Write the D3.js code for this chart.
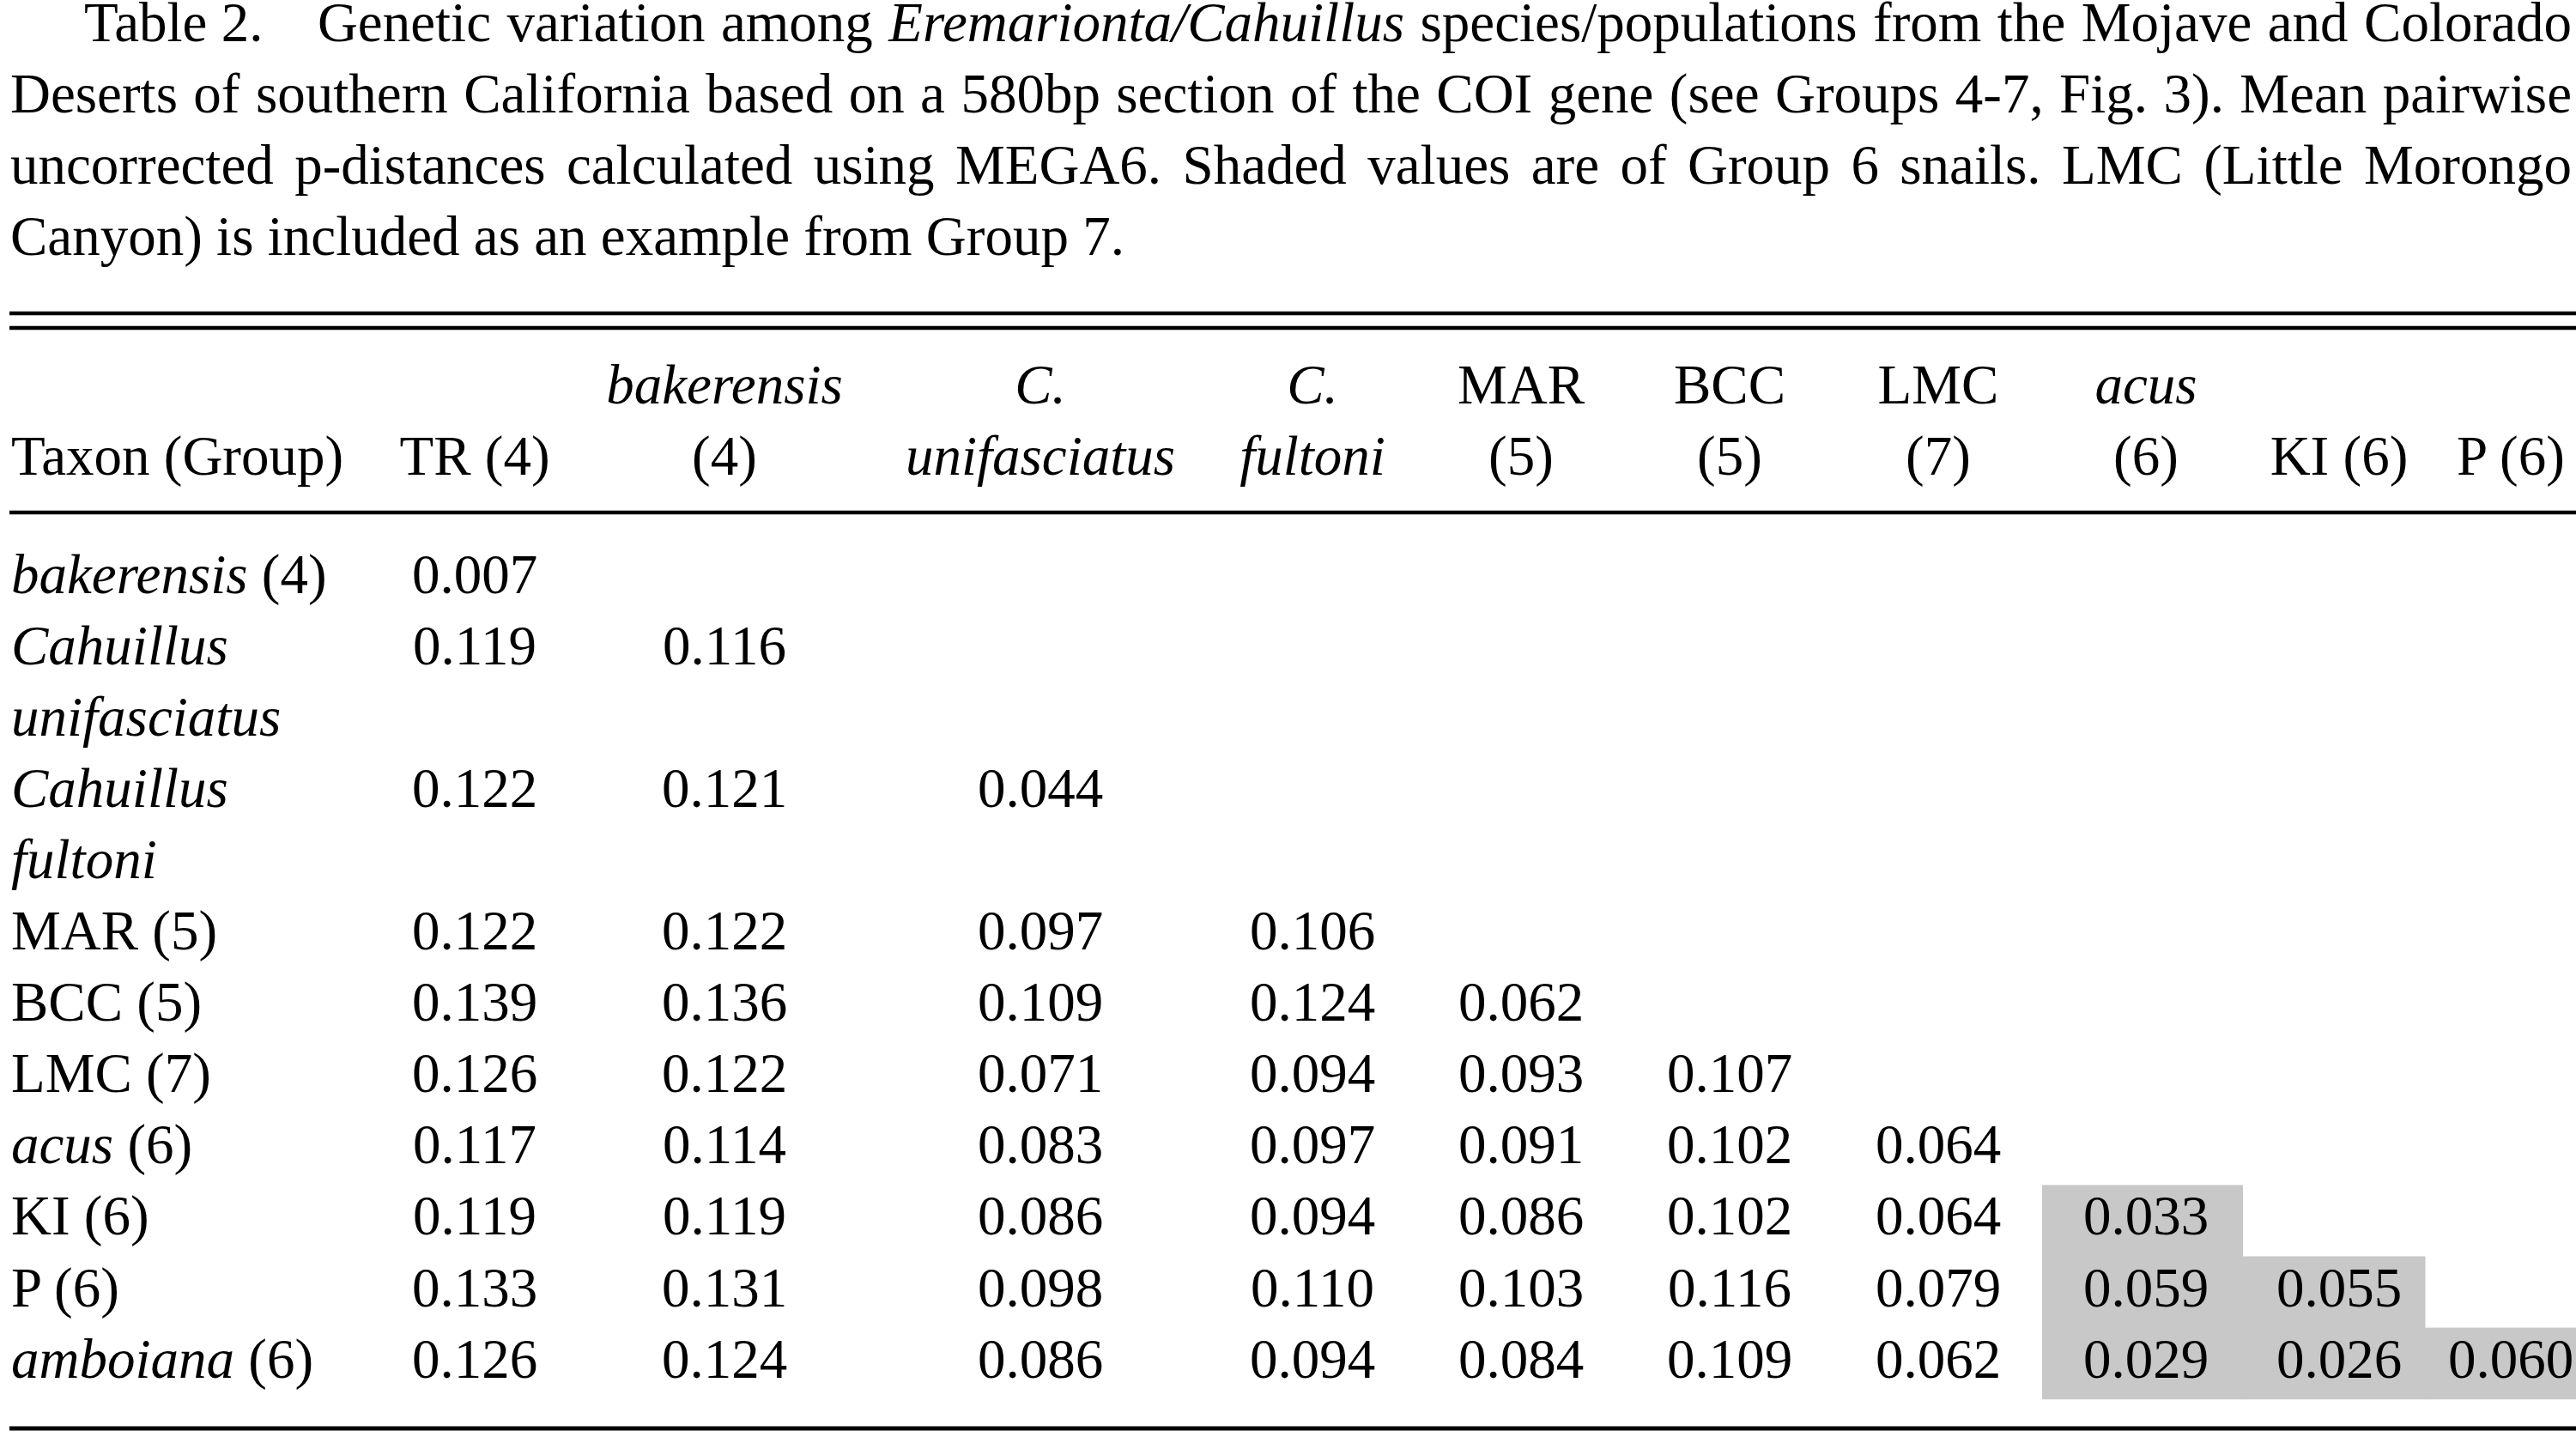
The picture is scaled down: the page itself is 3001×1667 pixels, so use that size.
<!DOCTYPE html>
<html>
<head>
<meta charset="utf-8">
<script src="https://cdn.jsdelivr.net/npm/d3@7"></script>
<style>
  body { margin: 0; background: #fff; }
  svg { display: block; font-family: "Liberation Serif", "Times New Roman", serif; }
</style>
</head>
<body>
<svg id="table" width="3001" height="1667"></svg>
<script>
// caption, words wrapped in _..._ are italic
const captionLines = [
  "Table\u00a02. Genetic variation among _Eremarionta/Cahuillus_ species/populations from the Mojave and Colorado",
  "Deserts of southern California based on a 580bp section of the COI gene (see Groups 4-7, Fig. 3). Mean pairwise",
  "uncorrected p-distances calculated using MEGA6. Shaded values are of Group 6 snails. LMC (Little Morongo",
  "Canyon) is included as an example from Group 7."
];

const columnHead1 = ["", "_bakerensis_", "_C._", "_C._", "MAR", "BCC", "LMC", "_acus_", "", ""];
const columnHead2 = ["TR (4)", "(4)", "_unifasciatus_", "_fultoni_", "(5)", "(5)", "(7)", "(6)", "KI (6)", "P (6)"];
const columnGroups = [4, 4, 0, 0, 5, 5, 7, 6, 6, 6];

const rowLabels = [
  ["_bakerensis_ (4)"],
  ["_Cahuillus_", "_unifasciatus_"],
  ["_Cahuillus_", "_fultoni_"],
  ["MAR (5)"],
  ["BCC (5)"],
  ["LMC (7)"],
  ["_acus_ (6)"],
  ["KI (6)"],
  ["P (6)"],
  ["_amboiana_ (6)"]
];
const rowGroups = [4, 0, 0, 5, 5, 7, 6, 6, 6, 6];

const distances = [
  ["0.007"],
  ["0.119", "0.116"],
  ["0.122", "0.121", "0.044"],
  ["0.122", "0.122", "0.097", "0.106"],
  ["0.139", "0.136", "0.109", "0.124", "0.062"],
  ["0.126", "0.122", "0.071", "0.094", "0.093", "0.107"],
  ["0.117", "0.114", "0.083", "0.097", "0.091", "0.102", "0.064"],
  ["0.119", "0.119", "0.086", "0.094", "0.086", "0.102", "0.064", "0.033"],
  ["0.133", "0.131", "0.098", "0.110", "0.103", "0.116", "0.079", "0.059", "0.055"],
  ["0.126", "0.124", "0.086", "0.094", "0.084", "0.109", "0.062", "0.029", "0.026", "0.060"]
];

const svg = d3.select("#table");
const width = +svg.attr("width");
const fontSize = 65;
const shade = "#c8c8c8";

// write "a _b_ c" into a text element as roman / italic tspans
function richText(sel, str) {
  str.split("_").forEach((part, i) => {
    if (!part) return;
    sel.append("tspan")
      .attr("font-style", i % 2 ? "italic" : "normal")
      .text(part);
  });
  return sel;
}

// caption, justified like the printed page
const capLeft = 12, capRight = 2996;
captionLines.forEach((line, li) => {
  const y = 48 + li * 83;
  const left = li === 0 ? 98 : capLeft;
  const words = line.split(" ");
  const nodes = words.map(w =>
    richText(svg.append("text").attr("y", y).attr("font-size", fontSize), w)
  );
  const widths = nodes.map(n => n.node().getComputedTextLength());
  const extra = words.map((w, i) => (li === 0 && i === 0 ? 45 : 0));
  const total = d3.sum(widths) + d3.sum(extra);
  const last = li === captionLines.length - 1;
  const gap = last ? fontSize * 0.25 : (capRight - left - total) / (words.length - 1);
  let x = left;
  nodes.forEach((n, i) => {
    n.attr("x", x);
    x += widths[i] + extra[i] + gap;
  });
});

// rules
const rules = [
  { y: 365, w: 4.5 },
  { y: 382, w: 4.5 },
  { y: 597, w: 4.5 },
  { y: 1664, w: 5 }
];
svg.selectAll("line.rule")
  .data(rules)
  .enter()
  .append("line")
  .attr("class", "rule")
  .attr("x1", 11)
  .attr("x2", width)
  .attr("y1", d => d.y)
  .attr("y2", d => d.y)
  .attr("stroke", "#000")
  .attr("stroke-width", d => d.w);

// column centres
const x = d3.scaleOrdinal()
  .domain(d3.range(columnHead2.length))
  .range([553, 844, 1212, 1529, 1772, 2015, 2258, 2500, 2725, 2925]);

// text line baseline
const lineY = d3.scaleLinear().domain([0, 1]).range([690.5, 773.6]);
const rowLine = [];
rowLabels.reduce((acc, lab, i) => { rowLine[i] = acc; return acc + lab.length; }, 0);

const colLeft = i => i === 0 ? 11 : (x(i - 1) + x(i)) / 2;
const colRight = i => i === columnHead2.length - 1 ? width : (x(i) + x(i + 1)) / 2;

// shaded Group 6 cells
const cells = [];
distances.forEach((row, r) => row.forEach((v, c) => cells.push({ r, c, v })));

svg.selectAll("rect.shade")
  .data(cells.filter(d => rowGroups[d.r] === 6 && columnGroups[d.c] === 6))
  .enter()
  .append("rect")
  .attr("class", "shade")
  .attr("x", d => colLeft(d.c))
  .attr("width", d => colRight(d.c) - colLeft(d.c) + 0.5)
  .attr("y", d => lineY(rowLine[d.r]) - 58)
  .attr("height", 83.6)
  .attr("fill", shade);

// header
svg.append("text")
  .attr("x", 13)
  .attr("y", 553)
  .attr("font-size", fontSize)
  .text("Taxon (Group)");

columnHead1.forEach((h, i) => {
  if (!h) return;
  richText(svg.append("text")
    .attr("x", x(i))
    .attr("y", 470)
    .attr("font-size", fontSize)
    .attr("text-anchor", "middle"), h);
});
columnHead2.forEach((h, i) => {
  richText(svg.append("text")
    .attr("x", x(i))
    .attr("y", 553)
    .attr("font-size", fontSize)
    .attr("text-anchor", "middle"), h);
});

// row labels
rowLabels.forEach((lab, r) => {
  lab.forEach((t, k) => {
    richText(svg.append("text")
      .attr("x", 13)
      .attr("y", lineY(rowLine[r] + k))
      .attr("font-size", fontSize), t);
  });
});

// values
svg.selectAll("text.val")
  .data(cells)
  .enter()
  .append("text")
  .attr("class", "val")
  .attr("x", d => x(d.c))
  .attr("y", d => lineY(rowLine[d.r]))
  .attr("font-size", fontSize)
  .attr("text-anchor", "middle")
  .text(d => d.v);
</script>
</body>
</html>
